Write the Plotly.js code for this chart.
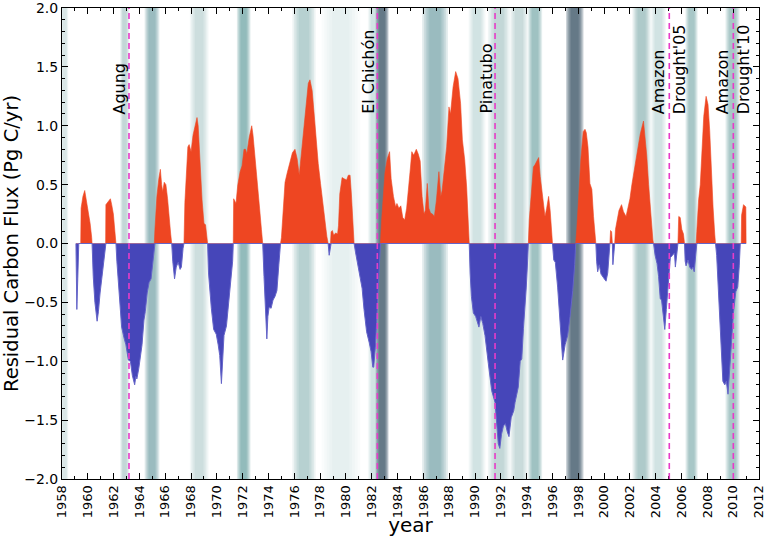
<!DOCTYPE html>
<html>
<head>
<meta charset="utf-8">
<script src="https://cdn.plot.ly/plotly-3.0.1.min.js"></script>
<style>
  html, body { margin: 0; padding: 0; background: #ffffff; }
  #chart { width: 765px; height: 537px; }
</style>
</head>
<body>
<div id="chart"></div>
<script>
// ---- data: residual carbon flux (Pg C/yr) ----
const years = [
  1959.08,1959.10,1959.15,1959.22,1959.30,1959.45,1959.48,1959.62,1959.76,1959.90,
  1960.05,1960.18,1960.30,1960.33,1960.42,1960.55,1960.72,1960.82,1960.95,1961.10,
  1961.25,1961.38,1961.40,1961.55,1961.75,1961.85,1961.98,1962.10,1962.18,1962.25,
  1962.35,1962.50,1962.62,1962.80,1962.95,1963.14,1963.30,1963.45,1963.55,1963.63,
  1963.72,1963.80,1963.95,1964.10,1964.20,1964.35,1964.45,1964.60,1964.75,1964.90,
  1965.00,1965.15,1965.20,1965.35,1965.50,1965.62,1965.72,1965.80,1965.92,1966.05,
  1966.18,1966.30,1966.42,1966.50,1966.58,1966.65,1966.72,1966.85,1967.00,1967.15,
  1967.25,1967.38,1967.45,1967.52,1967.62,1967.75,1967.85,1968.00,1968.15,1968.30,
  1968.46,1968.55,1968.65,1968.75,1968.85,1969.00,1969.12,1969.28,1969.35,1969.45,
  1969.57,1969.75,1969.95,1970.10,1970.22,1970.35,1970.45,1970.55,1970.74,1970.88,
  1971.00,1971.12,1971.22,1971.27,1971.30,1971.48,1971.62,1971.80,1971.95,1972.10,
  1972.22,1972.32,1972.50,1972.70,1972.80,1972.93,1973.05,1973.15,1973.30,1973.45,
  1973.55,1973.65,1973.76,1973.87,1973.95,1974.05,1974.20,1974.35,1974.50,1974.65,
  1974.80,1974.93,1975.00,1975.15,1975.28,1975.45,1975.65,1975.85,1976.05,1976.22,
  1976.38,1976.55,1976.75,1976.92,1977.08,1977.21,1977.38,1977.52,1977.68,1977.85,
  1978.03,1978.20,1978.37,1978.52,1978.62,1978.70,1978.75,1978.80,1978.85,1978.95,
  1979.05,1979.20,1979.35,1979.42,1979.52,1979.70,1979.85,1980.05,1980.18,1980.32,
  1980.42,1980.55,1980.63,1980.75,1980.90,1981.05,1981.25,1981.40,1981.60,1981.80,
  1981.95,1982.08,1982.15,1982.28,1982.40,1982.55,1982.67,1982.75,1982.90,1983.02,
  1983.20,1983.38,1983.50,1983.68,1983.85,1983.95,1984.10,1984.25,1984.40,1984.55,
  1984.70,1984.85,1985.00,1985.10,1985.25,1985.45,1985.60,1985.75,1985.90,1986.05,
  1986.15,1986.30,1986.42,1986.55,1986.70,1986.85,1987.00,1987.20,1987.35,1987.45,
  1987.60,1987.80,1987.98,1988.10,1988.30,1988.50,1988.68,1988.88,1989.02,1989.20,
  1989.35,1989.48,1989.55,1989.62,1989.72,1989.87,1990.05,1990.30,1990.45,1990.60,
  1990.77,1991.03,1991.29,1991.55,1991.68,1991.80,1991.92,1992.05,1992.20,1992.35,
  1992.50,1992.63,1992.80,1993.00,1993.10,1993.35,1993.50,1993.62,1993.75,1993.87,
  1993.97,1994.05,1994.13,1994.20,1994.28,1994.40,1994.52,1994.65,1994.80,1994.93,
  1995.05,1995.24,1995.42,1995.55,1995.70,1995.82,1995.93,1996.00,1996.10,1996.22,
  1996.40,1996.58,1996.79,1996.98,1997.18,1997.36,1997.57,1997.72,1997.80,1997.88,
  1998.03,1998.20,1998.38,1998.52,1998.62,1998.75,1998.90,1999.05,1999.18,1999.30,
  1999.36,1999.42,1999.50,1999.62,1999.76,1999.95,2000.15,2000.28,2000.40,2000.45,
  2000.50,2000.58,2000.64,2000.68,2000.76,2000.82,2000.88,2001.00,2001.15,2001.35,
  2001.50,2001.70,2001.85,2002.00,2002.15,2002.40,2002.60,2002.80,2003.05,2003.18,
  2003.30,2003.45,2003.60,2003.78,2003.83,2003.95,2004.10,2004.22,2004.35,2004.45,
  2004.55,2004.70,2004.82,2004.95,2005.13,2005.30,2005.45,2005.52,2005.60,2005.72,
  2005.78,2005.90,2006.02,2006.15,2006.23,2006.28,2006.35,2006.50,2006.63,2006.78,
  2006.88,2006.98,2007.08,2007.13,2007.18,2007.32,2007.45,2007.58,2007.72,2007.90,
  2008.05,2008.18,2008.30,2008.44,2008.57,2008.63,2008.72,2008.82,2008.95,2009.08,
  2009.20,2009.35,2009.47,2009.60,2009.73,2009.85,2010.02,2010.20,2010.35,2010.47,
  2010.55,2010.62,2010.65,2010.80,2010.98,2011.00
];
const flux = [
  0,-0.50,-0.56,-0.30,0,0,0.30,0.40,0.45,0.36,
  0.28,0.17,0.05,0,-0.28,-0.50,-0.66,-0.58,-0.42,-0.28,
  -0.10,0,0.33,0.35,0.38,0.33,0.25,0.10,0,-0.15,
  -0.31,-0.55,-0.71,-0.80,-0.86,-0.99,-1.00,-1.12,-1.17,-1.20,
  -1.13,-1.15,-1.06,-0.95,-0.86,-0.65,-0.58,-0.42,-0.33,-0.30,
  -0.20,0,0.12,0.40,0.55,0.63,0.50,0.44,0.52,0.50,
  0.38,0.20,0.08,0,-0.15,-0.25,-0.30,-0.20,-0.16,-0.22,
  -0.20,-0.04,0,0.35,0.60,0.82,0.84,0.78,0.92,0.99,
  1.07,1.00,0.75,0.55,0.37,0.17,0.16,0,-0.25,-0.42,
  -0.55,-0.73,-0.77,-0.86,-0.95,-1.19,-0.95,-0.78,-0.70,-0.55,
  -0.42,-0.30,-0.15,0,0.38,0.34,0.50,0.61,0.66,0.80,
  0.80,0.76,0.90,1.00,0.92,0.77,0.65,0.54,0.31,0.12,
  0,-0.28,-0.54,-0.81,-0.62,-0.54,-0.55,-0.48,-0.45,-0.40,
  -0.18,0,0.05,0.26,0.52,0.60,0.68,0.77,0.80,0.72,
  0.58,0.77,0.96,1.13,1.36,1.39,1.30,1.12,0.88,0.68,
  0.51,0.34,0.20,0.06,0,-0.10,-0.06,0,0.10,0.11,
  0.07,0.09,0.08,0.15,0.42,0.56,0.55,0.54,0.58,0.58,
  0.42,0.14,0,-0.08,-0.18,-0.27,-0.38,-0.56,-0.75,-0.84,
  -0.92,-1.05,-1.05,-0.88,-0.58,-0.25,0,0.18,0.45,0.60,
  0.72,0.78,0.55,0.40,0.31,0.34,0.30,0.32,0.22,0.20,
  0.30,0.45,0.65,0.78,0.75,0.80,0.76,0.70,0.40,0.25,
  0.28,0.51,0.30,0.26,0.25,0.23,0.36,0.61,0.40,0.45,
  0.62,0.82,1.16,1.10,1.33,1.46,1.40,1.19,0.88,0.71,
  0.48,0.19,0,-0.25,-0.45,-0.59,-0.62,-0.71,-0.62,-0.68,
  -0.78,-1.02,-1.25,-1.35,-1.56,-1.70,-1.74,-1.62,-1.55,-1.53,
  -1.60,-1.64,-1.48,-1.42,-1.35,-1.22,-1.00,-0.98,-0.72,-0.55,
  -0.37,-0.20,0,0.20,0.30,0.48,0.65,0.67,0.71,0.73,
  0.57,0.40,0.23,0.30,0.40,0.28,0.11,0,-0.14,-0.16,
  -0.37,-0.65,-0.99,-0.86,-0.78,-0.62,-0.40,-0.18,0,0.12,
  0.43,0.72,0.95,0.97,0.94,0.82,0.51,0.46,0.23,0.05,
  0,-0.15,-0.24,-0.18,-0.26,-0.29,-0.32,-0.25,-0.04,0,
  0.11,0.10,0,-0.18,-0.10,0,0.12,0.20,0.28,0.33,
  0.27,0.23,0.31,0.38,0.50,0.68,0.80,0.93,1.04,0.90,
  0.75,0.50,0.25,0.03,0,-0.10,-0.17,-0.28,-0.47,-0.48,
  -0.57,-0.73,-0.56,-0.34,-0.12,-0.10,-0.08,-0.20,-0.10,0,
  0.23,0.22,0.12,0.08,0,-0.15,-0.19,-0.14,-0.20,-0.22,
  -0.20,-0.24,-0.12,0,0.10,0.37,0.50,0.80,1.08,1.25,
  1.18,0.96,0.62,0.31,0.08,0,-0.10,-0.30,-0.60,-0.90,
  -1.17,-1.20,-1.17,-1.28,-1.06,-0.85,-0.59,-0.41,-0.37,-0.19,
  0,0,0.24,0.33,0.31,0
];

// ---- event markers ----
const eventNames = ["Agung", "El Chichón", "Pinatubo", "Amazon<br>Drought'05", "Amazon<br>Drought'10"];
const eventYears = [1963.19, 1982.43, 1991.55, 2005.05, 2010.01];
const eventCentered = [false, false, false, true, true];

// ---- El Niño shading periods (start, end, intensity, strong event) ----
const bandStart = [1957.9, 1962.5, 1964.4, 1967.9, 1971.55, 1975.85, 1978.1, 1981.7, 1982.3, 1985.9,
                   1989.5, 1991.0, 1992.7, 1994.1, 1997.05, 2002.2, 2003.6, 2006.3, 2009.4];
const bandEnd   = [1958.5, 1963.2, 1965.55, 1969.35, 1972.6, 1977.65, 1981.1, 1982.6, 1983.3, 1987.9,
                   1990.8, 1992.7, 1994.1, 1995.2, 1998.4, 2003.6, 2004.8, 2007.25, 2010.5];
const bandDepth = [0.15, 0.3, 0.55, 0.22, 0.6, 0.35, 0.1, 0.2, 0.95, 0.55,
                   0.2, 0.3, 0.25, 0.5, 0.95, 0.4, 0.2, 0.45, 0.45];
const bandStrong = [false,false,false,false,false,false,false,false,true,false,
                    false,false,false,false,true,false,false,false,false];

// ---- build shapes ----
const shapes = [];
const steps = [1.0, 0.86, 0.72, 0.58, 0.44];
for (let i = 0; i < bandStart.length; i++) {
  const c = (bandStart[i] + bandEnd[i]) / 2;
  const h = (bandEnd[i] - bandStart[i]) / 2;
  const p = 0.28 * bandDepth[i];
  const col = bandStrong[i] ? 'rgb(60,85,105)' : 'rgb(80,140,145)';
  steps.forEach(f => {
    shapes.push({
      type: 'rect', layer: 'below', xref: 'x', yref: 'paper',
      x0: c - h * f, x1: c + h * f, y0: 0, y1: 1,
      fillcolor: col, opacity: p, line: { width: 0 }
    });
  });
}
eventYears.forEach(x => {
  shapes.push({
    type: 'line', layer: 'above', xref: 'x', yref: 'paper',
    x0: x, x1: x, y0: 0, y1: 1,
    line: { color: 'rgb(230,60,200)', width: 1.6, dash: '6px,4px' }
  });
});

const annotations = eventNames.map((name, i) => ({
  x: eventYears[i], y: 1.108, xref: 'x', yref: 'y',
  text: name, showarrow: false, textangle: -90,
  xanchor: eventCentered[i] ? 'center' : 'right',
  yanchor: 'bottom', align: 'left',
  xshift: eventCentered[i] ? 0 : 2, yshift: -3,
  font: { family: 'DejaVu Sans', size: 16, color: '#000' }
}));

const pos = flux.map(v => Math.max(v, 0));
const neg = flux.map(v => Math.min(v, 0));

const traces = [
  { x: years, y: pos, type: 'scatter', mode: 'lines', fill: 'tozeroy',
    fillcolor: 'rgb(238,70,34)', line: { color: 'rgb(238,70,34)', width: 0.6 },
    hoverinfo: 'skip', showlegend: false },
  { x: years, y: neg, type: 'scatter', mode: 'lines', fill: 'tozeroy',
    fillcolor: 'rgb(70,70,185)', line: { color: 'rgb(100,100,200)', width: 1 },
    hoverinfo: 'skip', showlegend: false }
];

const layout = {
  width: 765, height: 537,
  margin: { l: 62, r: 6, t: 8, b: 58 },
  paper_bgcolor: '#fff', plot_bgcolor: '#fff',
  font: { family: 'DejaVu Sans', color: '#000' },
  showlegend: false,
  xaxis: {
    range: [1958, 2012], tick0: 1958, dtick: 2,
    ticks: 'inside', ticklen: 6, tickwidth: 1, tickcolor: '#000',
    minor: { dtick: 1, ticks: 'inside', ticklen: 3, tickcolor: '#000' },
    showline: true, linecolor: '#000', linewidth: 1, mirror: 'ticks',
    showgrid: false, zeroline: false, tickangle: -90,
    ticklabeloverflow: 'allow',
    tickfont: { size: 13 },
    title: { text: 'year', font: { size: 20 }, standoff: 1 }
  },
  yaxis: {
    range: [-2, 2], tick0: -2, dtick: 0.5, tickformat: '.1f',
    ticks: 'inside', ticklen: 6, tickwidth: 1, tickcolor: '#000',
    minor: { dtick: 0.1, ticks: 'inside', ticklen: 3, tickcolor: '#000' },
    showline: true, linecolor: '#000', linewidth: 1, mirror: 'ticks',
    showgrid: false, zeroline: false,
    ticklabeloverflow: 'allow',
    tickfont: { size: 14 },
    title: { text: 'Residual Carbon Flux (Pg C/yr)', font: { size: 19.5 }, standoff: 4 }
  },
  shapes: shapes,
  annotations: annotations
};

Plotly.newPlot('chart', traces, layout, { staticPlot: true, displayModeBar: false });
</script>
</body>
</html>
